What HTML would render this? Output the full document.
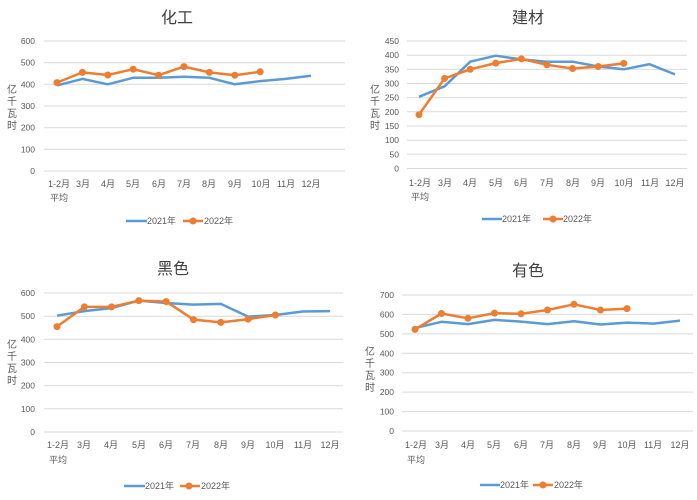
<!DOCTYPE html>
<html><head><meta charset="utf-8"><style>
html,body{margin:0;padding:0;background:#fff;}
svg{display:block;}
text{font-family:"Liberation Sans","Noto Sans CJK SC",sans-serif;fill:#595959;}
.t{font-size:16px;fill:#404040;text-anchor:middle;}
.yl{font-size:8.5px;text-anchor:end;}
.xl{font-size:9px;text-anchor:middle;}
.ax{font-size:10px;text-anchor:middle;fill:#404040;}
.lg{font-size:9px;}
.g{stroke:#d9d9d9;stroke-width:1;}
.b{fill:none;stroke:#5B9BD5;stroke-width:2.5;stroke-linejoin:round;}
.o{fill:none;stroke:#ED7D31;stroke-width:2.5;stroke-linejoin:round;}
.m{fill:#ED7D31;}
</style></head><body>
<svg width="697" height="500" viewBox="0 0 697 500">
<!-- Chart 1 -->
<text class="t" x="177" y="23">化工</text>
<g class="g">
<line x1="44" x2="345" y1="171" y2="171"/><line x1="44" x2="345" y1="149.3" y2="149.3"/><line x1="44" x2="345" y1="127.7" y2="127.7"/><line x1="44" x2="345" y1="106" y2="106"/><line x1="44" x2="345" y1="84.3" y2="84.3"/><line x1="44" x2="345" y1="62.7" y2="62.7"/><line x1="44" x2="345" y1="41" y2="41"/>
</g>
<g class="yl"><text x="35" y="174">0</text><text x="35" y="152.3">100</text><text x="35" y="130.7">200</text><text x="35" y="109">300</text><text x="35" y="87.3">400</text><text x="35" y="65.7">500</text><text x="35" y="44">600</text></g>
<g class="ax"><text x="12" y="93">亿</text><text x="12" y="105">千</text><text x="12" y="117">瓦</text><text x="12" y="129">时</text></g>
<g class="xl"><text x="59" y="187">1-2月</text><text x="59" y="201">平均</text><text x="83" y="187">3月</text><text x="108" y="187">4月</text><text x="133" y="187">5月</text><text x="159" y="187">6月</text><text x="184" y="187">7月</text><text x="209" y="187">8月</text><text x="235" y="187">9月</text><text x="261" y="187">10月</text><text x="286" y="187">11月</text><text x="311" y="187">12月</text></g>
<polyline class="b" points="57,85.4 82.4,78.9 107.8,84.3 133.2,77.8 158.6,77.8 184,76.7 209.4,77.8 234.8,84.3 260.2,81.1 285.6,78.9 311,75.7"/>
<polyline class="o" points="57,82.6 82.4,72.4 107.8,75 133.2,69.2 158.6,75.2 184,66.6 209.4,72.4 234.8,75.2 260.2,71.8"/>
<g class="m"><circle cx="57" cy="82.6" r="3.5"/><circle cx="82.4" cy="72.4" r="3.5"/><circle cx="107.8" cy="75" r="3.5"/><circle cx="133.2" cy="69.2" r="3.5"/><circle cx="158.6" cy="75.2" r="3.5"/><circle cx="184" cy="66.6" r="3.5"/><circle cx="209.4" cy="72.4" r="3.5"/><circle cx="234.8" cy="75.2" r="3.5"/><circle cx="260.2" cy="71.8" r="3.5"/></g>
<line x1="126" x2="147" y1="221" y2="221" stroke="#5B9BD5" stroke-width="2.5"/><text class="lg" x="147" y="224">2021年</text>
<line x1="183" x2="203" y1="221" y2="221" stroke="#ED7D31" stroke-width="2.5"/><circle class="m" cx="193" cy="221" r="3.5"/><text class="lg" x="204" y="224">2022年</text>

<!-- Chart 2 -->
<text class="t" x="528" y="23">建材</text>
<g class="g">
<line x1="407" x2="687" y1="168.5" y2="168.5"/><line x1="407" x2="687" y1="154.3" y2="154.3"/><line x1="407" x2="687" y1="140.2" y2="140.2"/><line x1="407" x2="687" y1="126" y2="126"/><line x1="407" x2="687" y1="111.8" y2="111.8"/><line x1="407" x2="687" y1="97.7" y2="97.7"/><line x1="407" x2="687" y1="83.5" y2="83.5"/><line x1="407" x2="687" y1="69.3" y2="69.3"/><line x1="407" x2="687" y1="55.2" y2="55.2"/><line x1="407" x2="687" y1="41" y2="41"/>
</g>
<g class="yl"><text x="399" y="171.5">0</text><text x="399" y="157.3">50</text><text x="399" y="143.2">100</text><text x="399" y="129">150</text><text x="399" y="114.8">200</text><text x="399" y="100.7">250</text><text x="399" y="86.5">300</text><text x="399" y="72.3">350</text><text x="399" y="58.2">400</text><text x="399" y="44">450</text></g>
<g class="ax"><text x="375" y="93">亿</text><text x="375" y="105">千</text><text x="375" y="117">瓦</text><text x="375" y="129">时</text></g>
<g class="xl"><text x="420" y="186">1-2月</text><text x="420" y="200">平均</text><text x="445" y="186">3月</text><text x="470" y="186">4月</text><text x="496" y="186">5月</text><text x="521" y="186">6月</text><text x="547" y="186">7月</text><text x="573" y="186">8月</text><text x="598" y="186">9月</text><text x="624" y="186">10月</text><text x="650" y="186">11月</text><text x="675" y="186">12月</text></g>
<polyline class="b" points="419,96.8 444.6,86.3 470.2,61.7 495.8,55.7 521.4,59.4 547,61.7 572.6,61.7 598.2,66.5 623.8,69.3 649.4,64.2 675,74.4"/>
<polyline class="o" points="419,114.7 444.6,78.4 470.2,69.3 495.8,63.1 521.4,58.9 547,64.8 572.6,68.5 598.2,66.5 623.8,63.4"/>
<g class="m"><circle cx="419" cy="114.7" r="3.5"/><circle cx="444.6" cy="78.4" r="3.5"/><circle cx="470.2" cy="69.3" r="3.5"/><circle cx="495.8" cy="63.1" r="3.5"/><circle cx="521.4" cy="58.9" r="3.5"/><circle cx="547" cy="64.8" r="3.5"/><circle cx="572.6" cy="68.5" r="3.5"/><circle cx="598.2" cy="66.5" r="3.5"/><circle cx="623.8" cy="63.4" r="3.5"/></g>
<line x1="482" x2="502" y1="219" y2="219" stroke="#5B9BD5" stroke-width="2.5"/><text class="lg" x="502" y="222">2021年</text>
<line x1="543" x2="563" y1="219" y2="219" stroke="#ED7D31" stroke-width="2.5"/><circle class="m" cx="553" cy="219" r="3.5"/><text class="lg" x="563" y="222">2022年</text>

<!-- Chart 3 -->
<text class="t" x="173" y="274">黑色</text>
<g class="g">
<line x1="44" x2="343" y1="432" y2="432"/><line x1="44" x2="343" y1="408.8" y2="408.8"/><line x1="44" x2="343" y1="385.7" y2="385.7"/><line x1="44" x2="343" y1="362.5" y2="362.5"/><line x1="44" x2="343" y1="339.3" y2="339.3"/><line x1="44" x2="343" y1="316.2" y2="316.2"/><line x1="44" x2="343" y1="293" y2="293"/>
</g>
<g class="yl"><text x="35" y="435">0</text><text x="35" y="411.8">100</text><text x="35" y="388.7">200</text><text x="35" y="365.5">300</text><text x="35" y="342.3">400</text><text x="35" y="319.2">500</text><text x="35" y="296">600</text></g>
<g class="ax"><text x="12" y="348">亿</text><text x="12" y="360">千</text><text x="12" y="372">瓦</text><text x="12" y="384">时</text></g>
<g class="xl"><text x="58" y="448">1-2月</text><text x="58" y="463">平均</text><text x="84" y="448">3月</text><text x="111" y="448">4月</text><text x="139" y="448">5月</text><text x="166" y="448">6月</text><text x="193" y="448">7月</text><text x="221" y="448">8月</text><text x="248" y="448">9月</text><text x="275" y="448">10月</text><text x="303" y="448">11月</text><text x="330" y="448">12月</text></g>
<polyline class="b" points="57,315.7 84.3,311.1 111.6,308.1 138.9,300.6 166.2,303 193.5,304.6 220.8,303.9 248.1,316.6 275.4,315 302.7,311.5 330,311.1"/>
<polyline class="o" points="57,326.6 84.3,306.9 111.6,306.9 138.9,300.6 166.2,301.6 193.5,319.6 220.8,322.4 248.1,319.2 275.4,315"/>
<g class="m"><circle cx="57" cy="326.6" r="3.5"/><circle cx="84.3" cy="306.9" r="3.5"/><circle cx="111.6" cy="306.9" r="3.5"/><circle cx="138.9" cy="300.6" r="3.5"/><circle cx="166.2" cy="301.6" r="3.5"/><circle cx="193.5" cy="319.6" r="3.5"/><circle cx="220.8" cy="322.4" r="3.5"/><circle cx="248.1" cy="319.2" r="3.5"/><circle cx="275.4" cy="315" r="3.5"/></g>
<line x1="124" x2="145" y1="486" y2="486" stroke="#5B9BD5" stroke-width="2.5"/><text class="lg" x="145" y="489">2021年</text>
<line x1="180" x2="200" y1="486" y2="486" stroke="#ED7D31" stroke-width="2.5"/><circle class="m" cx="189" cy="486" r="3.5"/><text class="lg" x="201" y="489">2022年</text>

<!-- Chart 4 -->
<text class="t" x="528" y="276">有色</text>
<g class="g">
<line x1="402" x2="693" y1="431" y2="431"/><line x1="402" x2="693" y1="411.6" y2="411.6"/><line x1="402" x2="693" y1="392.1" y2="392.1"/><line x1="402" x2="693" y1="372.7" y2="372.7"/><line x1="402" x2="693" y1="353.3" y2="353.3"/><line x1="402" x2="693" y1="333.9" y2="333.9"/><line x1="402" x2="693" y1="314.4" y2="314.4"/><line x1="402" x2="693" y1="295" y2="295"/>
</g>
<g class="yl"><text x="394" y="434">0</text><text x="394" y="414.6">100</text><text x="394" y="395.1">200</text><text x="394" y="375.7">300</text><text x="394" y="356.3">400</text><text x="394" y="336.9">500</text><text x="394" y="317.4">600</text><text x="394" y="298">700</text></g>
<g class="ax"><text x="370" y="355">亿</text><text x="370" y="367">千</text><text x="370" y="379">瓦</text><text x="370" y="391">时</text></g>
<g class="xl"><text x="416" y="448">1-2月</text><text x="416" y="463">平均</text><text x="442" y="448">3月</text><text x="468" y="448">4月</text><text x="494" y="448">5月</text><text x="521" y="448">6月</text><text x="547" y="448">7月</text><text x="574" y="448">8月</text><text x="600" y="448">9月</text><text x="627" y="448">10月</text><text x="653" y="448">11月</text><text x="680" y="448">12月</text></g>
<polyline class="b" points="415,328 441.5,321.8 468,324.1 494.5,319.9 521,321.6 547.5,324.1 574,321.2 600.5,324.5 627,322.6 653.5,323.6 680,320.6"/>
<polyline class="o" points="415,329.4 441.5,313.5 468,318.3 494.5,313.1 521,313.8 547.5,310 574,304.3 600.5,310 627,308.6"/>
<g class="m"><circle cx="415" cy="329.4" r="3.5"/><circle cx="441.5" cy="313.5" r="3.5"/><circle cx="468" cy="318.3" r="3.5"/><circle cx="494.5" cy="313.1" r="3.5"/><circle cx="521" cy="313.8" r="3.5"/><circle cx="547.5" cy="310" r="3.5"/><circle cx="574" cy="304.3" r="3.5"/><circle cx="600.5" cy="310" r="3.5"/><circle cx="627" cy="308.6" r="3.5"/></g>
<line x1="480" x2="500" y1="485" y2="485" stroke="#5B9BD5" stroke-width="2.5"/><text class="lg" x="500" y="488">2021年</text>
<line x1="533" x2="553" y1="485" y2="485" stroke="#ED7D31" stroke-width="2.5"/><circle class="m" cx="543" cy="485" r="3.5"/><text class="lg" x="554" y="488">2022年</text>
</svg>
</body></html>
